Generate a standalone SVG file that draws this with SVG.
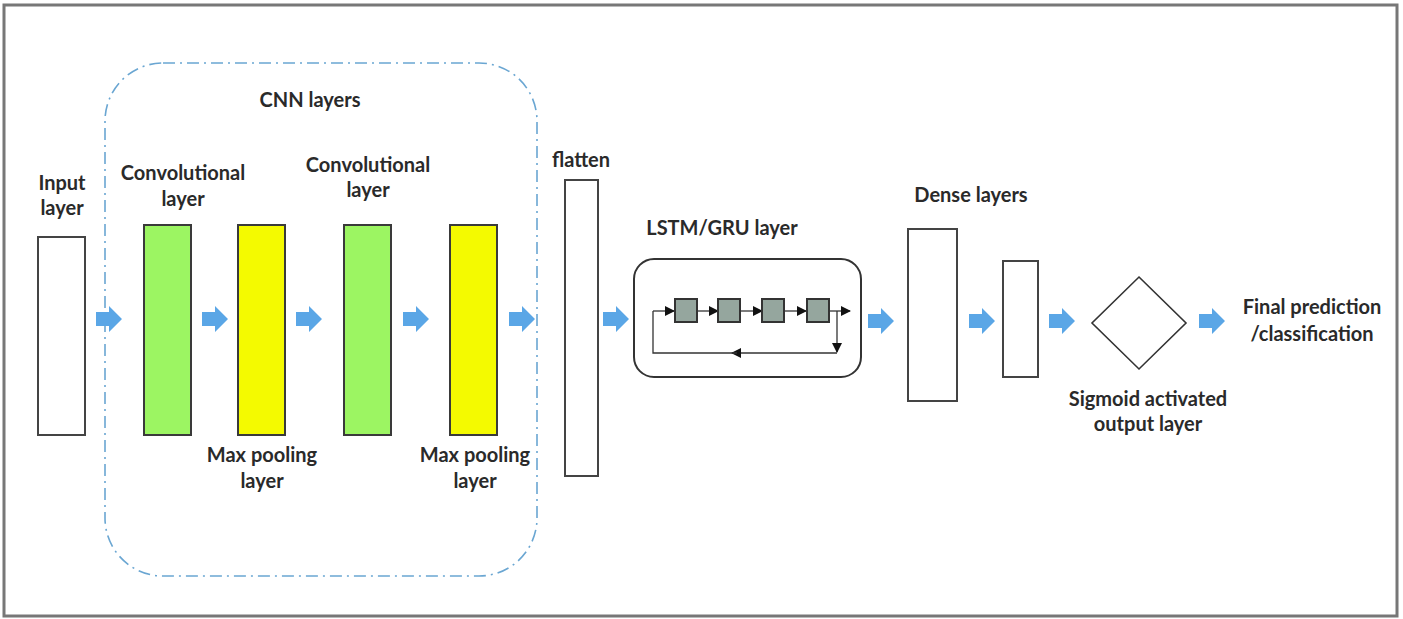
<svg xmlns="http://www.w3.org/2000/svg" width="1403" height="619" viewBox="0 0 1403 619">
<defs>
<style>
text{font-family:Lato,"Open Sans","Liberation Sans",sans-serif;font-weight:bold;font-size:20px;fill:#2a2a2a;text-anchor:middle}
.box{fill:#fff;stroke:#444;stroke-width:2}
.g{fill:#9cf562;stroke:#3a3a3a;stroke-width:2}
.y{fill:#f4fa00;stroke:#3a3a3a;stroke-width:2}
.cell{fill:#95a69e;stroke:#333;stroke-width:2}
.ln{fill:none;stroke:#333;stroke-width:1.3}
.ba{fill:#5aa6e6}
</style>
<marker id="ah" viewBox="0 0 10 10" refX="9" refY="5" markerWidth="10" markerHeight="10" markerUnits="userSpaceOnUse" orient="auto"><path d="M0,0L10,5L0,10z" fill="#111"/></marker>
<path id="blk" d="M0,-7H13V-13L26,0L13,13V7H0z"/>
</defs>
<rect x="0" y="0" width="1403" height="619" fill="#fff"/>
<rect x="4" y="5" width="1393" height="611" fill="none" stroke="#777" stroke-width="3"/>

<g id="cnn-group">
<rect x="105" y="63" width="432" height="513" rx="58" fill="none" stroke="#6aa6d2" stroke-width="1.6" stroke-dasharray="12,5,2,5"/>
<text x="310" y="107">CNN layers</text>
</g>

<g id="input-layer">
<text x="62" y="190">Input</text><text x="62" y="215">layer</text>
<rect class="box" x="38" y="237" width="47" height="198"/>
</g>
<g id="conv1">
<text x="183" y="180">Convolutional</text><text x="183" y="206">layer</text>
<rect class="g" x="144" y="225" width="47" height="210"/>
</g>
<g id="pool1">
<rect class="y" x="238" y="225" width="47" height="210"/>
<text x="262" y="462">Max pooling</text><text x="262" y="488">layer</text>
</g>
<g id="conv2">
<text x="368" y="172">Convolutional</text><text x="368" y="197">layer</text>
<rect class="g" x="344" y="225" width="47" height="210"/>
</g>
<g id="pool2">
<rect class="y" x="450" y="225" width="47" height="210"/>
<text x="475" y="462">Max pooling</text><text x="475" y="488">layer</text>
</g>
<g id="flatten">
<text x="581" y="167">flatten</text>
<rect class="box" x="565" y="180" width="33" height="296"/>
</g>
<g id="lstm">
<text x="722" y="235">LSTM/GRU layer</text>
<rect x="634" y="259" width="227" height="118" rx="20" fill="#fff" stroke="#333" stroke-width="2"/>
<path class="ln" d="M653,311H674" marker-end="url(#ah)"/>
<path class="ln" d="M697,311H718" marker-end="url(#ah)"/>
<path class="ln" d="M740,311H762" marker-end="url(#ah)"/>
<path class="ln" d="M784,311H806" marker-end="url(#ah)"/>
<path class="ln" d="M829,311H850" marker-end="url(#ah)"/>
<path class="ln" d="M837,311V352" marker-end="url(#ah)"/>
<path class="ln" d="M837,353H732" marker-end="url(#ah)"/>
<path class="ln" d="M737,353H653V311"/>
<rect class="cell" x="675" y="299" width="22" height="23"/>
<rect class="cell" x="718" y="299" width="22" height="23"/>
<rect class="cell" x="762" y="299" width="22" height="23"/>
<rect class="cell" x="807" y="299" width="22" height="23"/>
</g>
<g id="dense">
<text x="971" y="202">Dense layers</text>
<rect class="box" x="908" y="229" width="49" height="172"/>
<rect class="box" x="1003" y="261" width="35" height="116"/>
</g>
<g id="output">
<path d="M1139,277L1186,323L1139,369L1092,323z" fill="#fff" stroke="#333" stroke-width="1.6"/>
<text x="1148" y="406">Sigmoid activated</text><text x="1148" y="431">output layer</text>
</g>
<g id="final">
<text x="1312" y="314">Final prediction</text><text x="1312" y="341">/classification</text>
</g>

<g id="connectors" class="ba">
<use href="#blk" x="96" y="319"/>
<use href="#blk" x="202" y="319"/>
<use href="#blk" x="296" y="319"/>
<use href="#blk" x="403" y="319"/>
<use href="#blk" x="509" y="319"/>
<use href="#blk" x="603" y="319"/>
<use href="#blk" x="868" y="321"/>
<use href="#blk" x="969" y="321"/>
<use href="#blk" x="1049" y="321"/>
<use href="#blk" x="1199" y="321"/>
</g>
</svg>
